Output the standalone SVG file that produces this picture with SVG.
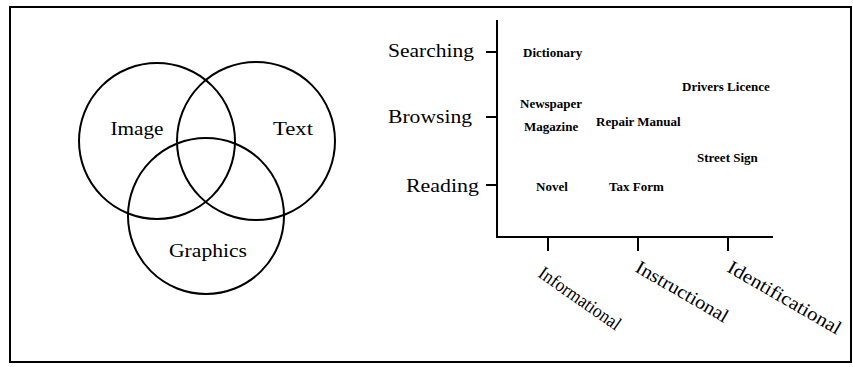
<svg xmlns="http://www.w3.org/2000/svg" width="853" height="367" viewBox="0 0 853 367">
<style>
.ln{fill:none;stroke:#000;stroke-width:2}
.big{font-family:"Liberation Serif","Times New Roman",serif;font-size:19px;fill:#000}
.item{font-family:"Liberation Serif","Times New Roman",serif;font-size:13px;font-weight:bold;fill:#000}
</style>
<rect width="853" height="367" fill="#fff"/>
<rect id="frame" class="ln" x="10" y="7" width="841" height="355"/>
<g id="venn-image"><circle class="ln" cx="157" cy="141" r="78"/><text class="big" x="137" y="135" text-anchor="middle" textLength="53" lengthAdjust="spacingAndGlyphs">Image</text></g>
<g id="venn-text"><circle class="ln" cx="256" cy="141" r="79"/><text class="big" x="293" y="135" text-anchor="middle" textLength="40" lengthAdjust="spacingAndGlyphs">Text</text></g>
<g id="venn-graphics"><circle class="ln" cx="206" cy="216" r="78"/><text class="big" x="208" y="257" text-anchor="middle" textLength="78" lengthAdjust="spacingAndGlyphs">Graphics</text></g>
<g id="axes">
<path class="ln" d="M497 20V237H773M486 52H497M486 117H497M486 185H497M548 237V251M638 237V251M728 237V251"/>
</g>
<g id="y-labels">
<text class="big" x="474" y="57" text-anchor="end" textLength="86" lengthAdjust="spacingAndGlyphs">Searching</text>
<text class="big" x="472" y="123" text-anchor="end" textLength="84" lengthAdjust="spacingAndGlyphs">Browsing</text>
<text class="big" x="479" y="192" text-anchor="end" textLength="73" lengthAdjust="spacingAndGlyphs">Reading</text>
</g>
<g id="x-labels">
<text class="big" transform="translate(537,276) rotate(35)" textLength="96" lengthAdjust="spacingAndGlyphs">Informational</text>
<text class="big" transform="translate(634,271) rotate(30)" textLength="104" lengthAdjust="spacingAndGlyphs">Instructional</text>
<text class="big" transform="translate(726,271) rotate(30)" textLength="128" lengthAdjust="spacingAndGlyphs">Identificational</text>
</g>
<g id="items">
<text id="dictionary" class="item" x="523" y="57">Dictionary</text>
<text id="drivers-licence" class="item" x="682" y="91">Drivers Licence</text>
<text id="newspaper" class="item" x="520" y="108">Newspaper</text>
<text id="magazine" class="item" x="524" y="131">Magazine</text>
<text id="repair-manual" class="item" x="596" y="126">Repair Manual</text>
<text id="street-sign" class="item" x="697" y="162">Street Sign</text>
<text id="novel" class="item" x="536" y="191">Novel</text>
<text id="tax-form" class="item" x="609" y="191">Tax Form</text>
</g>
</svg>
